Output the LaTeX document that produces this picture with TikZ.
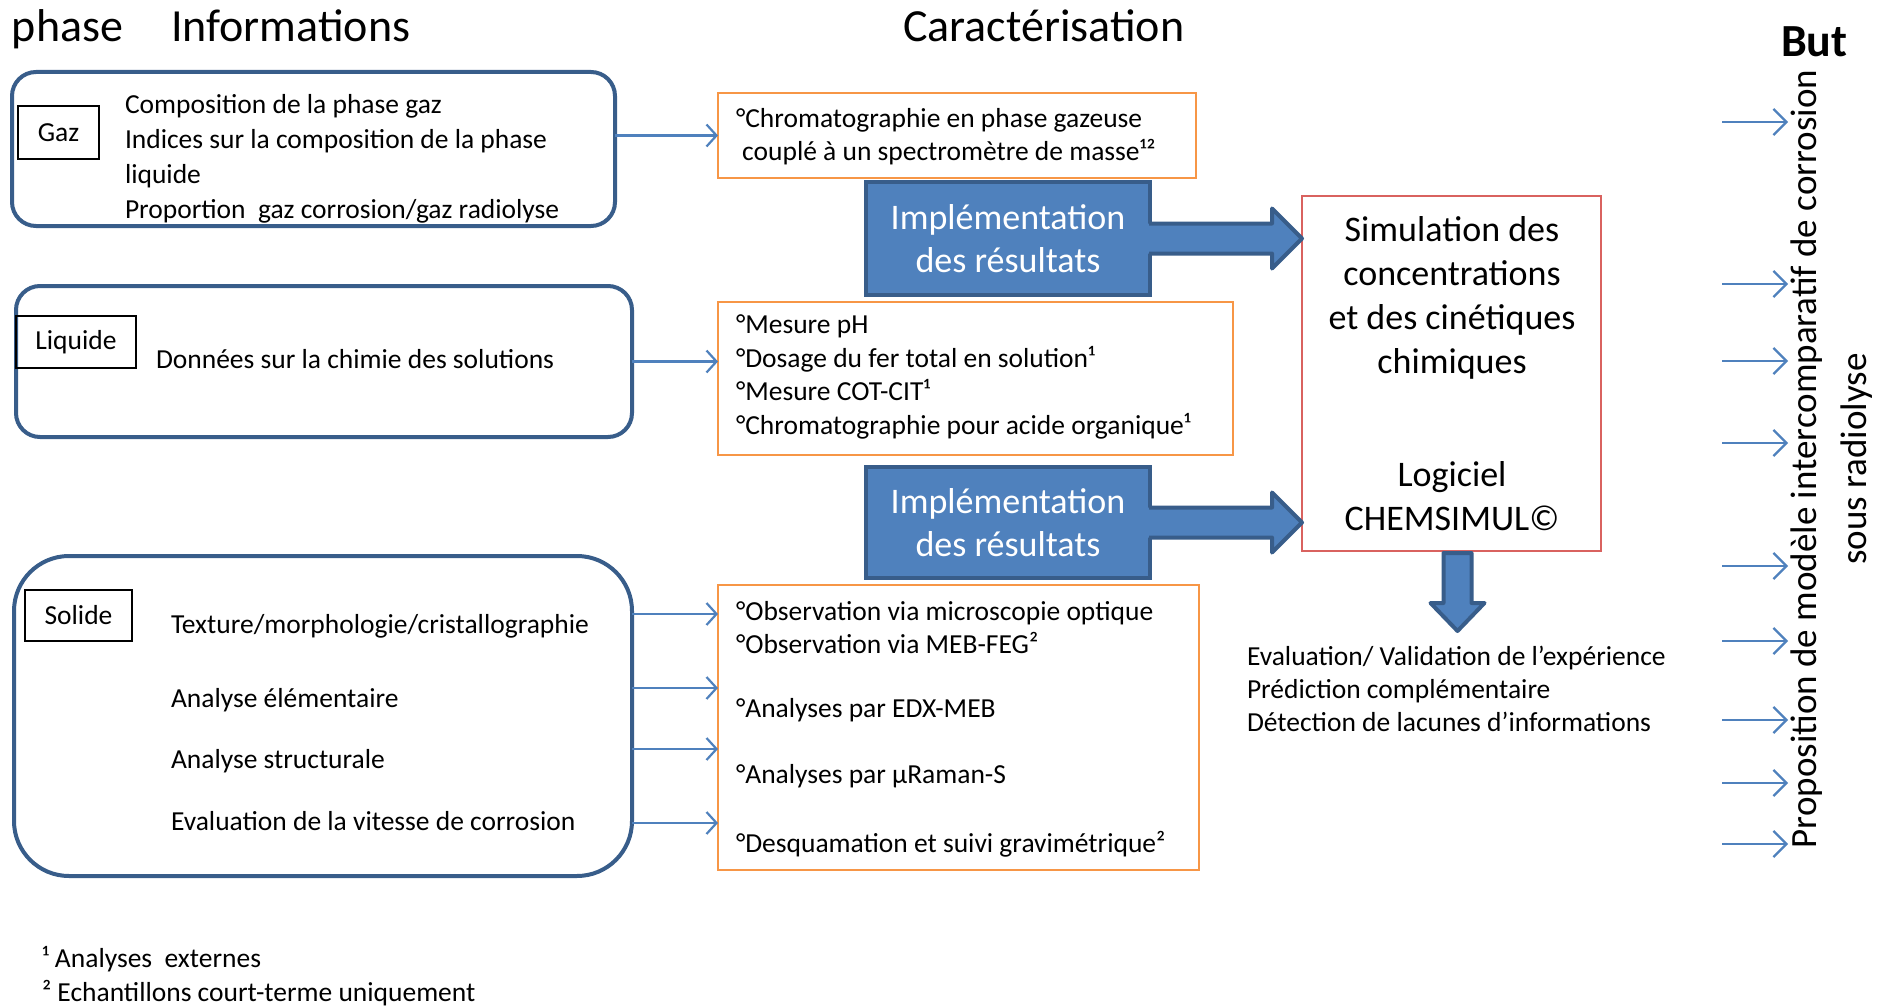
\documentclass[tikz,border=0pt]{standalone}
\usepackage{fontspec}
\setmainfont{Carlito}
\usetikzlibrary{arrows.meta,calc}
\definecolor{boxblue}{HTML}{385D8A}
\definecolor{fillblue}{HTML}{4F81BD}
\definecolor{orng}{HTML}{F79646}
\definecolor{redb}{HTML}{D9625F}
\begin{document}
\begin{tikzpicture}[x=1pt,y=-1pt,
  every node/.style={inner sep=0pt, outer sep=0pt},
  body/.style={font=\fontsize{27.5}{35}\selectfont, align=left, anchor=west},
  grp/.style={draw=boxblue, line width=4pt, rounded corners=24pt},
  lab/.style={draw=black, line width=1.5pt, font=\fontsize{27.5}{33}\selectfont},
  obox/.style={draw=orng, line width=2pt},
  impl/.style={fill=fillblue, draw=boxblue, line width=4pt, text=white, font=\fontsize{36}{43}\selectfont, align=center},
  thinarr/.style={draw=fillblue, line width=2.2pt, -{Straight Barb[length=10pt,width=22pt]}},
  goalarr/.style={draw=fillblue, line width=2.2pt, -{Straight Barb[length=13pt,width=26pt]}},
  hdr/.style={font=\fontsize{46}{50}\selectfont, anchor=base west},
  bigtxt/.style={font=\fontsize{36}{44}\selectfont, align=center}]
\useasboundingbox (0,0) rectangle (1887,1006);
\fill[white] (0,0) rectangle (1887,1006);

% headers
\node[hdr] (hphase) at (12,42) {phase};
\node[hdr] (hinfo) at (171,42) {Informations};
\node[hdr] (hcar) at (903,42) {Caractérisation};
\node[hdr, font=\fontsize{46}{50}\selectfont\bfseries] (hbut) at (1781,57) {But};

% Gaz
\node[grp, minimum width=603pt, minimum height=154pt] (gaz) at (313.5,149) {};
\node[lab, minimum width=81pt, minimum height=53pt] (gazl) at (58.5,132.5) {Gaz};
\node[body] (gazt) at (125,158.5) {Composition de la phase gaz\\Indices sur la composition de la phase\\liquide\\Proportion\ \ gaz corrosion/gaz radiolyse};

% Liquide
\node[grp, minimum width=616pt, minimum height=151pt] (liq) at (324,361.5) {};
\node[lab, minimum width=120pt, minimum height=52pt] (liql) at (76,342) {Liquide};
\node[body] (liqt) at (156,359) {Données sur la chimie des solutions};

% Solide
\node[grp, rounded corners=55pt, minimum width=618pt, minimum height=320pt] (sol) at (323,716) {};
\node[lab, minimum width=107pt, minimum height=51pt] (soll) at (78.5,615.5) {Solide};
\node[body] (solt1) at (171,626) {Texture/morphologie/cristallographie};
\node[body] (solt2) at (171,700) {Analyse élémentaire};
\node[body] (solt3) at (171,761) {Analyse structurale};
\node[body] (solt4) at (171,821) {Evaluation de la vitesse de corrosion};

% Orange boxes
\node[obox, minimum width=478pt, minimum height=85pt] (o1) at (957,135.5) {};
\node[body, font=\fontsize{27.5}{33}\selectfont] (o1t) at (736,137) {°Chromatographie en phase gazeuse\\\ couplé à un spectromètre de masse¹²};
\node[obox, minimum width=515pt, minimum height=153pt] (o2) at (975.5,378.5) {};
\node[body, font=\fontsize{27.5}{33.5}\selectfont] (o2t) at (736,377) {°Mesure pH\\°Dosage du fer total en solution¹\\°Mesure COT-CIT¹\\°Chromatographie pour acide organique¹};
\node[obox, minimum width=481pt, minimum height=285pt] (o3) at (958.5,727.5) {};
\node[body, font=\fontsize{27.5}{33}\selectfont] (o3a) at (736,627.5) {°Observation via microscopie optique\\°Observation via MEB-FEG²};
\node[body] (o3b) at (736,710) {°Analyses par EDX-MEB};
\node[body] (o3c) at (736,776) {°Analyses par µRaman-S};
\node[body] (o3d) at (736,844) {°Desquamation et suivi gravimétrique²};

% thin arrows left -> characterisation
\draw[thinarr] (gaz.east |- o1.west) -- (o1.west);
\draw[thinarr] (liq.east) -- (liq.east -| o2.west);
\foreach \yy/\n in {614/a,688/b,749/c,823/d}{
  \coordinate (s\n) at (632,\yy);
  \draw[thinarr] (s\n) -- (s\n -| o3.west);
}

% implementation boxes
\node[impl, minimum width=284pt, minimum height=113pt] (impl1) at (1008,238.5) {Implémentation\\des résultats};
\node[impl, minimum width=284pt, minimum height=111pt] (impl2) at (1008,522.5) {Implémentation\\des résultats};

% simulation box
\node[draw=redb, line width=2pt, minimum width=299pt, minimum height=355pt] (sim) at (1451.5,373.5) {};
\node[bigtxt] (simt) at (1452,298) {Simulation des\\concentrations\\et des cinétiques\\chimiques};
\node[bigtxt] (logt) at (1452,496) {Logiciel\\CHEMSIMUL©};

% block arrows
\foreach \b in {1,2}{
  \coordinate (b\b s) at (impl\b.east);
  \coordinate (b\b e) at (sim.west |- impl\b.east);
  \fill[fillblue] ($(b\b s)+(-3,-15)$) -- ($(b\b e)+(-30,-15)$) -- ($(b\b e)+(-30,-30)$) -- (b\b e) -- ($(b\b e)+(-30,30)$) -- ($(b\b e)+(-30,15)$) -- ($(b\b s)+(-3,15)$) -- cycle;
  \draw[boxblue, line width=4pt, line join=round] ($(b\b s)+(-1,-15)$) -- ($(b\b e)+(-30,-15)$) -- ($(b\b e)+(-30,-30)$) -- (b\b e) -- ($(b\b e)+(-30,30)$) -- ($(b\b e)+(-30,15)$) -- ($(b\b s)+(-1,15)$);
}
\coordinate (dtop) at ($(sim.south)+(6,2)$);
\filldraw[fill=fillblue, draw=boxblue, line width=4pt, line join=round] ($(dtop)+(-14,0)$) -- ($(dtop)+(-14,50)$) -- ($(dtop)+(-27,50)$) -- ($(dtop)+(0,78)$) -- ($(dtop)+(27,50)$) -- ($(dtop)+(14,50)$) -- ($(dtop)+(14,0)$) -- cycle;

% evaluation text
\node[body, font=\fontsize{27.5}{33}\selectfont] (eval) at (1247,689) {Evaluation/ Validation de l’expérience\\Prédiction complémentaire\\Détection de lacunes d’informations};

% goal arrows
\foreach \yy [count=\i] in {122,284,361,443,566,641,720,783,844}{
  \coordinate (r\i) at (1722,\yy);
  \coordinate (re\i) at (1788,\yy);
  \draw[goalarr] (r\i) -- (re\i);
}
\node[font=\fontsize{37}{50}\selectfont, align=center, rotate=90] (goal) at (1832,459) {Proposition de modèle intercomparatif de corrosion\\sous radiolyse};

% footnotes
\node[body, font=\fontsize{27.5}{34}\selectfont] (fn) at (42,976) {¹ Analyses\ \ externes\\² Echantillons court-terme uniquement};
\end{tikzpicture}
\end{document}
